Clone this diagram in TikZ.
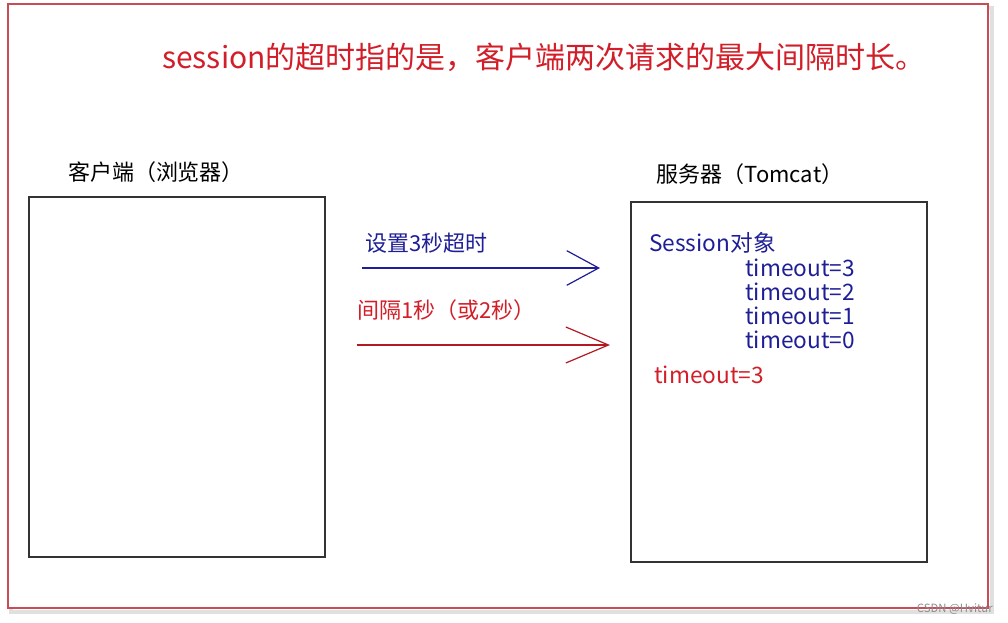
\documentclass[tikz,border=0pt]{standalone}
\usepackage{fontspec}
\setmainfont{Noto Sans CJK SC}
\usetikzlibrary{arrows.meta}
\definecolor{titlered}{RGB}{210,30,40}
\definecolor{navy}{RGB}{30,30,150}
\definecolor{framered}{RGB}{200,75,85}

\begin{document}
\begin{tikzpicture}[x=0.75pt,y=-0.75pt,
    box/.style={draw=black!80, line width=1pt, minimum width=222pt, minimum height=270pt, inner sep=0pt},
    lbl/.style={inner sep=0pt, font=\fontsize{16.5}{18}\selectfont},
    obj/.style={inner sep=0pt, anchor=west, text=navy, font=\fontsize{17}{18}\selectfont},
    barb/.style={line width=0.9pt}]
  \useasboundingbox (0,0) rectangle (1008,623);
  % outer frame
  \draw[black!12, line width=2.5pt] (11,8) rectangle (992,612);
  \draw[framered, line width=1.8pt, fill=white] (8,4) rectangle (988,608);
  \node[lbl, text=titlered, font=\fontsize{22.5}{24}\selectfont] (title) at (544,57)
    {session的超时指的是，客户端两次请求的最大间隔时长。};
  % client and server
  \node[box] (client) at (177,377) {};
  \node[box] (server) at (779,382) {};
  \node[lbl] (clientlbl) at (156,172) {客户端（浏览器）};
  \node[lbl] (serverlbl) at (750,174) {服务器（Tomcat）};
  % requests
  \coordinate (set0) at (362,268);
  \coordinate (set1) at (600,268);
  \coordinate (gap0) at (357,345);
  \coordinate (gap1) at (610,345);
  \draw[barb, navy, -{Straight Barb[length=24pt, width=26pt]}] (set0) -- (set1);
  \draw[barb, titlered!85!black, -{Straight Barb[length=32pt, width=27pt]}] (gap0) -- (gap1);
  \node[lbl, anchor=west, text=navy] (setlbl) at (365,243) {设置3秒超时};
  \node[lbl, anchor=west, text=titlered] (gaplbl) at (357,310) {间隔1秒（或2秒）};
  % session object
  \node[obj] (sess) at (649,243) {Session对象};
  \node[obj] (t3) at (745,268) {timeout=3};
  \node[obj] (t2) at (745,292) {timeout=2};
  \node[obj] (t1) at (745,316) {timeout=1};
  \node[obj] (t0) at (745,340) {timeout=0};
  \node[obj, text=titlered] (tnew) at (654,375) {timeout=3};
  \node[inner sep=0pt, anchor=east, text=black!45, font=\fontsize{8.5}{9}\selectfont] (mark) at (993,609) {CSDN @Hvitur};
\end{tikzpicture}
\end{document}
